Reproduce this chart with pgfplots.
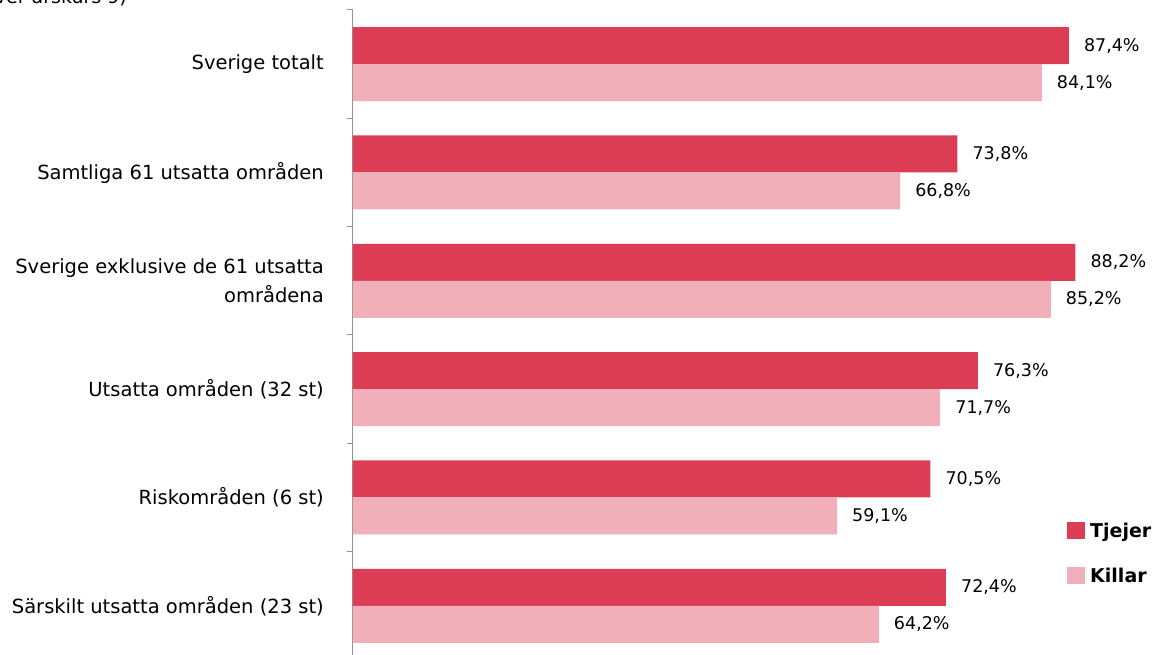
\documentclass[border=0pt]{standalone}
\usepackage{pgfplots}
\pgfplotsset{compat=1.18}
\usepackage{fontspec}
\setmainfont{DejaVu Sans}
\definecolor{tj}{RGB}{220,61,85}
\definecolor{ki}{RGB}{241,176,185}
\begin{document}
\begin{tikzpicture}
\useasboundingbox (0,0) rectangle (1162pt,655pt);
\clip (0,0) rectangle (1162pt,655pt);
\node[anchor=base east, font=\fontsize{19}{23}\selectfont, inner sep=0pt] at (127pt,651pt) {(andel elever årskurs 9)};
\begin{axis}[
  at={(353pt,-5pt)}, anchor=south west,
  scale only axis, width=809pt, height=650pt,
  xmin=0, xmax=98.78, ymin=-0.5, ymax=5.5,
  enlargelimits=false, clip=false,
  xbar, bar width=37pt,
  axis x line=none, axis y line=left,
  y axis line style={draw=gray!85, line width=1pt, -},
  xtick=\empty,
  ytick={0,...,5},
  yticklabels={Särskilt utsatta områden (23 st), Riskområden (6 st), Utsatta områden (32 st), {Sverige exklusive de 61 utsatta\\områdena}, Samtliga 61 utsatta områden, Sverige totalt},
  major tick length=0pt,
  minor ytick={-0.5,0.5,...,5.5},
  minor tick length=6pt,
  tick align=outside,
  minor tick style={draw=gray!85, line width=1pt},
  yticklabel style={font=\fontsize{19.5}{29}\selectfont, align=right, inner sep=0pt, xshift=-29pt},
  point meta=x,
  /pgf/number format/.cd, use comma, fixed, fixed zerofill, precision=1, assume math mode=true,
  /pgfplots/.cd,
  nodes near coords={\pgfmathprintnumber{\pgfplotspointmeta}\%},
  nodes near coords style={font=\fontsize{17.5}{20}\selectfont, anchor=west, inner sep=0pt, xshift=15pt, text=black},
  legend image code/.code={\fill[#1] (0pt,-8.5pt) rectangle (18pt,8.5pt);},
  legend style={at={(0.8826,0.2123)}, anchor=north west, draw=none, fill=none, inner sep=0pt,
    font=\fontsize{19}{23}\selectfont\bfseries, row sep=28pt,
    nodes={inner sep=0pt},
    /tikz/every odd column/.append style={column sep=5pt}},
  legend cell align=left,
]
\addplot[fill=tj, draw=none, bar shift=18.5pt] coordinates {(87.4,5) (73.8,4) (88.2,3) (76.3,2) (70.5,1) (72.4,0)};
\addplot[fill=ki, draw=none, bar shift=-18.5pt] coordinates {(84.1,5) (66.8,4) (85.2,3) (71.7,2) (59.1,1) (64.2,0)};
\legend{Tjejer, Killar}
\end{axis}
\end{tikzpicture}
\end{document}
